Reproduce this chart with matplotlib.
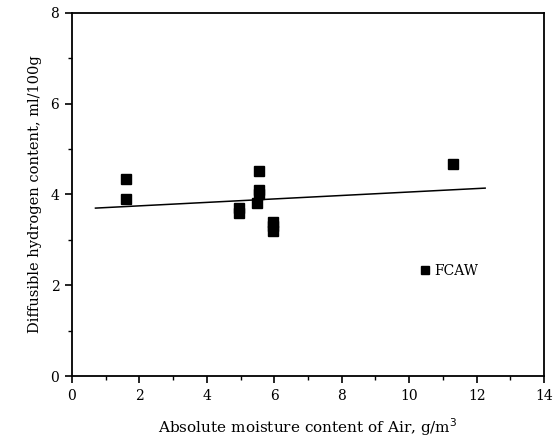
import numpy as np
import matplotlib.pyplot as plt
from matplotlib.ticker import MultipleLocator

moisture = [1.6, 1.6, 4.95, 4.95, 5.5, 5.55, 5.55, 5.55, 5.95, 5.95, 5.95, 11.3]
hydrogen = [4.35, 3.9, 3.7, 3.6, 3.82, 4.0, 4.1, 4.52, 3.4, 3.3, 3.2, 4.68]

# Fitted line end points
fit_x = [0.7, 12.25]
fit_y = [3.70, 4.14]

plt.rcParams['font.family'] = ['DejaVu Serif']

fig = plt.figure(figsize=(5.57, 4.42), dpi=100)
ax = fig.add_axes([0.129, 0.149, 0.848, 0.822])

ax.plot(moisture, hydrogen, 's', color='black', markersize=6.5, label='FCAW')
ax.plot(fit_x, fit_y, '-', color='black', linewidth=1.1)

ax.set_xlim(0, 14)
ax.set_ylim(0, 8)
ax.xaxis.set_major_locator(MultipleLocator(2))
ax.xaxis.set_minor_locator(MultipleLocator(1))
ax.yaxis.set_major_locator(MultipleLocator(2))
ax.yaxis.set_minor_locator(MultipleLocator(1))
ax.tick_params(which='major', direction='out', length=5, width=1.2, labelsize=10, pad=4)
ax.tick_params(which='minor', direction='out', length=3, width=1)
for s in ax.spines.values():
    s.set_linewidth(1.3)

ax.set_xlabel("Absolute moisture content of Air, g/m$^3$", fontsize=11, labelpad=10)
ax.set_ylabel("Diffusible hydrogen content, ml/100g", fontsize=10.5, labelpad=6)

ax.legend(loc='center', bbox_to_anchor=(0.80, 0.29), frameon=False,
          handlelength=0.6, handletextpad=0.4, markerscale=0.85, fontsize=10)

plt.savefig('out.png', dpi=100)
plt.close()
